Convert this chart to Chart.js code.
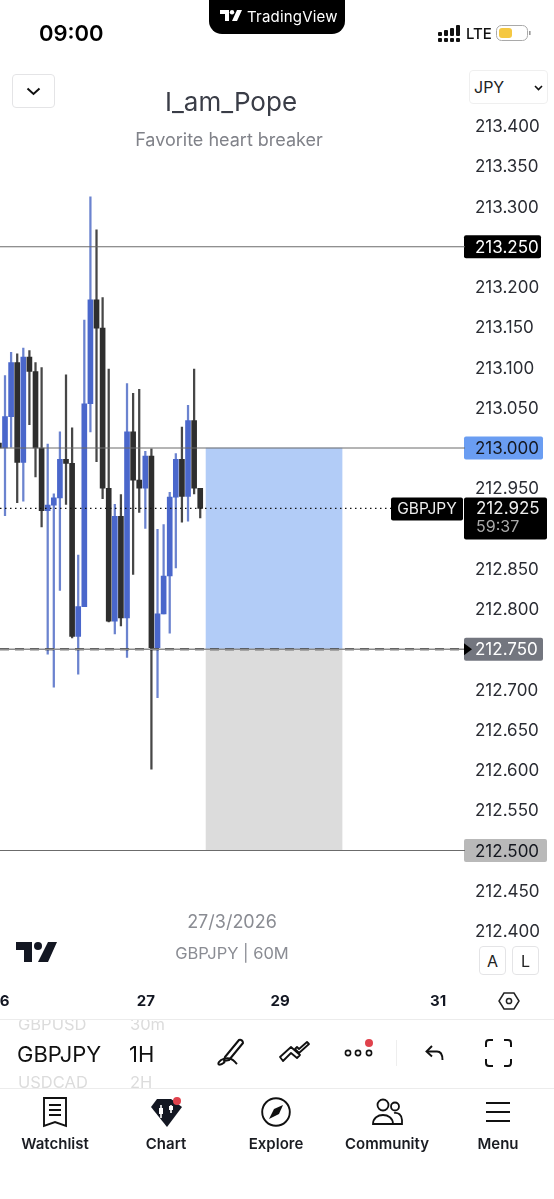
<!DOCTYPE html>
<html>
<head>
<meta charset="utf-8">
<title>GBPJPY 60M</title>
<script src="https://cdn.jsdelivr.net/npm/chart.js@4"></script>
<style>
  html, body { margin: 0; padding: 0; background: #fff; }
  body { width: 554px; height: 1199px; position: relative; overflow: hidden; font-family: Inter, "Noto Sans", sans-serif; color: #131722; }
  canvas { position: absolute; left: 0; top: 0; }
  .t { position: absolute; white-space: nowrap; line-height: 1; }
  .c { transform: translateX(-50%); }
  .box { position: absolute; box-sizing: border-box; background: #fff; border: 1.5px solid #e4e4e6; border-radius: 4px; }
  .rule { position: absolute; left: 0; width: 554px; height: 1px; background: #ececec; }
  svg { position: absolute; overflow: visible; }
  .nav { font-size: 15px; font-weight: 600; top: 1136px; color: #1a1c22; }
</style>
</head>
<body>
<canvas id="chart" width="554" height="1199"></canvas>

<!-- status bar -->
<div class="t" style="left:39px;top:22px;font-size:22px;font-weight:600;color:#000">09:00</div>
<div style="position:absolute;left:209px;top:0;width:136px;height:34px;background:#000;border-radius:0 0 13px 13px"></div>
<svg style="left:220px;top:10px" width="22" height="12" viewBox="0 0 22 12"><path d="M0 0h9v11H5V4H0z M17 0h5l-5 11h-5z" fill="#fff"/><circle cx="12" cy="2.2" r="2.2" fill="#fff"/></svg>
<div class="t" style="left:247px;top:9px;font-size:15px;color:#fff;letter-spacing:.2px">TradingView</div>
<svg style="left:438px;top:25px" width="23" height="18" viewBox="0 0 23 18" fill="#111">
  <rect x="0" y="7" width="4" height="4" rx="1"/><rect x="6" y="5" width="4" height="6" rx="1"/><rect x="12" y="3" width="4" height="8" rx="1"/><rect x="18" y="0" width="4" height="11" rx="1"/>
  <rect x="0" y="13" width="4" height="4" rx="1"/><rect x="6" y="13" width="4" height="4" rx="1"/><rect x="12" y="13" width="4" height="4" rx="1"/><rect x="18" y="13" width="4" height="4" rx="1"/>
</svg>
<div class="t" style="left:466px;top:26px;font-size:15px;font-weight:500;color:#111">LTE</div>
<svg style="left:496px;top:25px" width="36" height="16" viewBox="0 0 36 16"><rect x=".5" y=".5" width="31" height="15" rx="5" fill="#fff" stroke="#a9a9a9"/><rect x="3" y="3" width="13" height="10" rx="3" fill="#f5c842"/><rect x="33" y="6" width="1.6" height="4" fill="#999"/></svg>

<!-- header -->
<div class="box" style="left:12px;top:74px;width:43px;height:34px"></div>
<svg style="left:26px;top:87px" width="15" height="9" viewBox="0 0 15 9"><path d="M1.5 1.5 7.5 7 13.5 1.5" fill="none" stroke="#111" stroke-width="2"/></svg>
<div class="t c" style="left:231px;top:89px;font-size:26px;color:#3a3d47">I_am_Pope</div>
<div class="t c" style="left:229px;top:131px;font-size:18px;color:#808289">Favorite heart breaker</div>
<div class="box" style="left:469px;top:70px;width:79px;height:34px;border-color:#efefef"></div>
<div class="t" style="left:474px;top:79px;font-size:16px;color:#222">JPY</div>
<svg style="left:534px;top:85px" width="9" height="6" viewBox="0 0 9 6"><path d="M1 1 4.5 4.5 8 1" fill="none" stroke="#111" stroke-width="1.6"/></svg>

<!-- watermark -->
<div class="t c" style="left:232px;top:913px;font-size:18px;color:#8a8c93">27/3/2026</div>
<div class="t c" style="left:232px;top:945px;font-size:16.5px;color:#8a8c93">GBPJPY | 60M</div>
<svg style="left:16px;top:942px" width="41" height="20" viewBox="0 0 41 20"><path d="M0 0h16v20H8V8H0z M32 0h9l-9 20h-10z" fill="#131722"/><circle cx="22" cy="4" r="4" fill="#131722"/></svg>
<div class="box" style="left:479px;top:946px;width:27px;height:29px"></div>
<div class="t c" style="left:492.5px;top:953px;font-size:16px;color:#222">A</div>
<div class="box" style="left:512px;top:946px;width:27px;height:29px"></div>
<div class="t c" style="left:525.5px;top:953px;font-size:16px;color:#222">L</div>
<svg style="left:498px;top:990px" width="22" height="22" viewBox="0 0 22 22"><path d="M6 3h10l5 8-5 8H6l-5-8z" fill="none" stroke="#222" stroke-width="1.5"/><circle cx="11" cy="11" r="2.6" fill="none" stroke="#222" stroke-width="1.5"/></svg>

<!-- symbol strip -->
<div class="rule" style="top:1019px"></div>
<div style="position:absolute;left:0;top:1020px;width:200px;height:68px;overflow:hidden">
  <div class="t" style="left:18px;top:-4px;font-size:16.5px;color:#dcdcdc;width:84px;overflow:hidden">GBPUSD</div>
  <div class="t" style="left:130px;top:-4px;font-size:16.5px;color:#dcdcdc">30m</div>
  <div class="t" style="left:17px;top:23px;font-size:22px;color:#111">GBPJPY</div>
  <div class="t" style="left:129px;top:23px;font-size:22px;color:#111">1H</div>
  <div class="t" style="left:18px;top:54px;font-size:16.5px;color:#dcdcdc;width:84px;overflow:hidden">USDCAD</div>
  <div class="t" style="left:130px;top:54px;font-size:16.5px;color:#dcdcdc">2H</div>
</div>
<svg style="left:217px;top:1038px" width="30" height="30" viewBox="0 0 30 30" fill="none" stroke="#111" stroke-width="2" stroke-linejoin="round"><path d="M8 19 22 2c2-1 4 1 4 3L12 22l-5 1z"/><path d="M8 24c-5 4-8 3-6 0 2-3 8-5 12-3 3 1 3 2 6 5"/></svg>
<svg style="left:279px;top:1042px" width="32" height="20" viewBox="0 0 32 20" fill="none" stroke="#111" stroke-width="1.8" stroke-linejoin="round"><path d="M1 15 12 5l9 8-3 3-6-5-8 8z"/><path d="M16 7l4 4 10-9-2-2-8 7-2-2z"/></svg>
<svg style="left:344px;top:1038px" width="32" height="22" viewBox="0 0 32 22"><g fill="none" stroke="#111" stroke-width="1.6"><circle cx="4" cy="15" r="2.6"/><circle cx="14" cy="15" r="2.6"/><circle cx="25" cy="15" r="2.6"/></g><circle cx="25" cy="5" r="4" fill="#e0424c"/></svg>
<div style="position:absolute;left:396px;top:1040px;width:1px;height:26px;background:#eee"></div>
<svg style="left:425px;top:1045px" width="19" height="16" viewBox="0 0 19 16" fill="none" stroke="#111" stroke-width="1.9"><path d="M7 1 1.5 6.5 7 11.5"/><path d="M2 6.5h10c4 0 5.5 3 5.5 8.5"/></svg>
<svg style="left:485px;top:1039px" width="27" height="28" viewBox="0 0 27 28" fill="none" stroke="#111" stroke-width="2"><path d="M1 8V4q0-3 3-3h4M19 1h4q3 0 3 3v4M26 20v4q0 3-3 3h-4M8 27H4q-3 0-3-3v-4"/></svg>

<!-- bottom nav -->
<div class="rule" style="top:1088px"></div>
<svg style="left:43px;top:1097px" width="24" height="30" viewBox="0 0 24 30" fill="none" stroke="#111" stroke-width="1.9"><path d="M1 1h22v28l-11-4-11 4z"/><path d="M6 8h12M6 13h12M6 18h12"/></svg>
<svg style="left:150px;top:1096px" width="34" height="32" viewBox="0 0 34 32"><path d="M7 3h14l3 2 8 6-15 20L1 11z" fill="#131722"/><path d="M11 9v13M21 9v8" stroke="#fff" stroke-width="1.6"/><rect x="9" y="12" width="4" height="6" fill="#fff"/><rect x="19" y="10" width="4" height="4" fill="#fff"/><circle cx="27" cy="5" r="4" fill="#e0424c"/></svg>
<svg style="left:261px;top:1097px" width="30" height="30" viewBox="0 0 30 30"><circle cx="15" cy="15" r="13.8" fill="none" stroke="#111" stroke-width="1.9"/><path d="M8 22 13 12 22 8 18 17z" fill="#111"/></svg>
<svg style="left:372px;top:1098px" width="31" height="28" viewBox="0 0 31 28" fill="none" stroke="#111" stroke-width="1.8"><circle cx="11" cy="7" r="5.5"/><circle cx="23" cy="8.5" r="4"/><path d="M1 26c0-12 20-12 20 0z"/><path d="M22 15c4-1 8 2 8 7v4h-9"/></svg>
<svg style="left:486px;top:1100px" width="24" height="24" viewBox="0 0 24 24" stroke="#111" stroke-width="2"><path d="M0 3h24M0 12h24M0 21h24"/></svg>
<div class="t c nav" style="left:55px">Watchlist</div>
<div class="t c nav" style="left:166px">Chart</div>
<div class="t c nav" style="left:276px">Explore</div>
<div class="t c nav" style="left:387px">Community</div>
<div class="t c nav" style="left:498px">Menu</div>

<script>
// GBPJPY 60M candles
const opens  = [213.006,213.000,213.039,213.106,212.982,213.113,213.095,213.000,212.922,212.929,212.938,212.986,212.981,212.766,212.803,213.055,213.184,213.149,212.950,212.785,212.915,212.789,213.020,212.960,212.950,212.990,212.752,212.794,212.841,212.939,212.986,212.940,213.034,212.950];
const highs  = [213.006,213.090,213.119,213.117,213.124,213.121,213.106,213.100,213.005,212.943,213.020,213.091,213.025,212.867,213.159,213.312,213.271,213.187,213.098,212.930,212.942,213.080,213.068,213.073,212.996,212.999,212.899,212.905,212.945,212.993,213.026,213.053,213.098,212.949];
const lows   = [213.000,212.916,213.001,212.932,212.934,213.029,212.964,212.902,212.744,212.703,212.823,212.930,212.764,212.719,212.803,213.020,212.983,212.937,212.784,212.769,212.779,212.740,212.843,212.920,212.900,212.601,212.690,212.794,212.770,212.851,212.908,212.909,212.943,212.913];
const closes = [213.000,213.039,213.106,212.982,213.113,213.095,213.000,212.922,212.929,212.938,212.986,212.981,212.766,212.803,213.055,213.184,213.149,212.950,212.785,212.915,212.789,213.020,212.960,212.950,212.990,212.752,212.794,212.841,212.939,212.986,212.940,213.034,212.950,212.925];

const dayTicks  = [0.18, 24.1, 46.1, 72];
const dayLabels = ['26', '27', '29', '31'];

const targetPrice = 213.000;
const entryPrice  = 212.750;
const stopPrice   = 212.500;
const upperLine   = 213.250;
const lastPrice   = 212.925;
const positionX   = 45.1;

const xMin = 0.18, xMax = 76.4, labelEndX = 64.3;
const yMin = 212.35, yMax = 213.45;
const hiddenTicks = ['213.450', '212.350', '212.900'];

const BLUE = '#4a67cb', BLUE_WICK = '#6b83cf', DARK = '#2e2e2e', DARK_WICK = '#474747';
const isUp = closes.map((c, i) => c >= opens[i]);

function hline(y, color, extra) {
    return Object.assign({
        type: 'line', order: 0, borderColor: color, borderWidth: 1, pointRadius: 0,
        data: [{ x: xMin, y: y }, { x: xMax, y: y }]
    }, extra || {});
}

const tagStyles = {
    '213.250': { bg: '#000', fg: '#fff', w: 77 },
    '213.000': { bg: '#6a9df2', fg: '#14171f', w: 79 },
    '212.750': { bg: '#73767f', fg: '#fff', w: 79 },
    '212.500': { bg: '#b9b9b9', fg: '#14171f', w: 83 }
};

// price tags sit under the axis labels, the live price box goes on top
const priceTags = {
    id: 'priceTags',
    beforeDraw(chart) {
        const ctx = chart.ctx, y = chart.scales.y, left = chart.chartArea.right - 1;
        ctx.save();
        Object.keys(tagStyles).forEach(k => {
            const s = tagStyles[k], py = y.getPixelForValue(parseFloat(k));
            ctx.fillStyle = s.bg;
            ctx.beginPath();
            ctx.roundRect(left, py - 11.5, s.w, 23, 2);
            ctx.fill();
        });
        ctx.restore();
    },
    afterDraw(chart) {
        const ctx = chart.ctx, y = chart.scales.y, left = chart.chartArea.right - 1;
        const py = y.getPixelForValue(lastPrice);
        const em = y.getPixelForValue(entryPrice);
        ctx.save();
        ctx.fillStyle = '#000';
        ctx.beginPath();
        ctx.moveTo(left, em - 6); ctx.lineTo(left + 8, em); ctx.lineTo(left, em + 6);
        ctx.fill();
        ctx.beginPath();
        ctx.roundRect(left, py - 11, 83, 42, 2);
        ctx.fill();
        ctx.beginPath();
        ctx.roundRect(left - 73, py - 11, 72, 23, 2);
        ctx.fill();
        ctx.textBaseline = 'middle';
        ctx.textAlign = 'left';
        ctx.font = '17px Inter';
        ctx.fillStyle = '#eee';
        ctx.fillText(lastPrice.toFixed(3), left + 12, py + 1);
        ctx.font = '16px Inter';
        ctx.fillStyle = '#a9a9a9';
        ctx.fillText('59:37', left + 12, py + 19);
        ctx.font = '15.5px Inter';
        ctx.fillStyle = '#eee';
        ctx.textAlign = 'center';
        ctx.fillText('GBPJPY', left - 37, py + 1);
        ctx.restore();
    }
};

new Chart(document.getElementById('chart'), {
    type: 'bar',
    data: {
        datasets: [
            hline(upperLine, '#6b6b6b'),
            hline(targetPrice, '#6b6b6b'),
            hline(stopPrice, '#6b6b6b'),
            hline(entryPrice, '#8c8c8c', { borderWidth: 1.5 }),
            hline(entryPrice, '#000', { borderWidth: 2, borderDash: [9, 6] }),
            hline(lastPrice, '#111', {
                borderWidth: 1.2, borderDash: [1.5, 3.5],
                data: [{ x: xMin, y: lastPrice }, { x: labelEndX, y: lastPrice }]
            }),
            {
                order: 1, grouped: false, barThickness: 5,
                backgroundColor: isUp.map(u => u ? BLUE : DARK),
                data: opens.map((o, i) => ({ x: i, y: [o, closes[i]] }))
            },
            {
                order: 2, grouped: false, barThickness: 1.6,
                backgroundColor: isUp.map(u => u ? BLUE_WICK : DARK_WICK),
                data: highs.map((h, i) => ({ x: i, y: [lows[i], h] }))
            },
            {
                order: 3, grouped: false, barThickness: 136, backgroundColor: '#b2ccf7',
                data: [{ x: positionX, y: [entryPrice, targetPrice] }]
            },
            {
                order: 3, grouped: false, barThickness: 136, backgroundColor: '#dcdcdc',
                data: [{ x: positionX, y: [stopPrice, entryPrice] }]
            }
        ]
    },
    options: {
        responsive: false,
        animation: false,
        layout: { padding: { top: 85.75, bottom: 177.75, left: 0, right: 0 } },
        plugins: { legend: { display: false }, tooltip: { enabled: false } },
        scales: {
            x: {
                type: 'linear', min: xMin, max: xMax, offset: false,
                grid: { display: false }, border: { display: false },
                afterFit(s) { s.height = 50; s.paddingLeft = 0; s.paddingRight = 0; },
                afterBuildTicks(s) { s.ticks = dayTicks.map(v => ({ value: v })); },
                ticks: {
                    autoSkip: false, maxRotation: 0, padding: 13,
                    color: '#131722', font: { family: 'Inter', size: 15, weight: '700' },
                    callback: (v, i) => dayLabels[i]
                }
            },
            y: {
                type: 'linear', position: 'right', min: yMin, max: yMax,
                grid: { display: false, drawTicks: false }, border: { display: false },
                afterFit(s) { s.width = 89; },
                afterBuildTicks(s) { s.ticks = s.ticks.filter(t => !hiddenTicks.includes(t.value.toFixed(3))); },
                ticks: {
                    stepSize: 0.05, autoSkip: false, crossAlign: 'near', padding: 10, labelOffset: 1,
                    font: { family: 'Inter', size: 17 },
                    color: c => {
                        const s = tagStyles[c.tick.value.toFixed(3)];
                        return s ? s.fg : '#2a2c33';
                    },
                    callback: v => v.toFixed(3)
                }
            }
        }
    },
    plugins: [priceTags]
});
</script>
</body>
</html>
